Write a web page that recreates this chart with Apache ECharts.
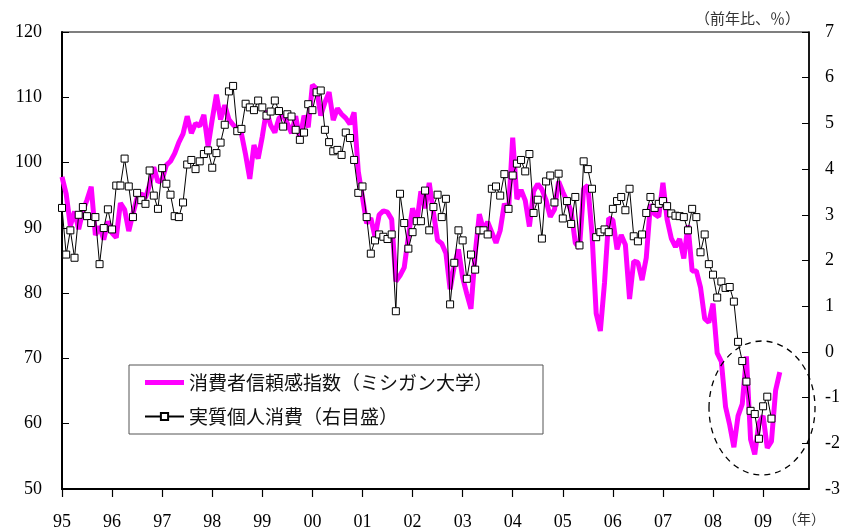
<!DOCTYPE html>
<html>
<head>
<meta charset="utf-8">
<script src="https://cdn.jsdelivr.net/npm/echarts@6/dist/echarts.min.js"></script>
<style>
  html, body { margin: 0; padding: 0; background: #fff; }
  #el { width: 843px; height: 531px; }
</style>
</head>
<body>
<div id="el"></div>
<script>
// months 1995-01 .. 2009-12
const months = [];
for (let y = 1995; y <= 2009; y++) {
  for (let m = 1; m <= 12; m++) {
    months.push(y + "-" + (m < 10 ? "0" + m : m));
  }
}

// 消費者信頼感指数（ミシガン大学） left axis
const sentiment = [
  97.8, 95.2, 90.3, 92.5, 89.8, 92.6, 94.3, 96.3, 88.9, 90.2, 88.2, 91.0,
  89.2, 88.5, 93.8, 92.8, 89.5, 92.2, 94.6, 95.2, 94.6, 96.6, 99.3, 97.0,
  97.4, 99.6, 100.2, 101.4, 103.1, 104.4, 107.1, 104.5, 106.0, 105.6, 107.3, 102.5,
  106.6, 110.4, 106.6, 108.8, 106.6, 105.8, 105.2, 104.4, 101.2, 97.5, 102.7, 100.6,
  104.0, 108.0, 105.7, 104.6, 106.8, 107.2, 106.0, 104.5, 107.1, 103.5, 107.2, 105.4,
  111.9, 111.3, 107.2, 109.2, 110.8, 106.5, 108.3, 107.4, 106.8, 105.9, 107.7, 98.6,
  94.7, 90.7, 91.5, 88.6, 92.0, 92.6, 92.4, 91.3, 81.8, 82.7, 83.9, 88.7,
  93.0, 90.7, 95.6, 93.0, 96.9, 92.4, 88.1, 87.6, 86.1, 80.6, 84.2, 86.7,
  82.4, 79.9, 77.6, 86.0, 92.1, 89.7, 90.9, 89.3, 87.7, 89.6, 93.7, 92.6,
  103.8, 94.4, 95.8, 94.2, 90.2, 95.6, 96.7, 95.9, 94.2, 91.7, 92.8, 97.1,
  95.5, 94.1, 92.6, 87.7, 86.9, 96.0, 96.5, 89.1, 76.9, 74.2, 81.6, 91.5,
  91.2, 86.7, 88.9, 87.4, 79.1, 84.9, 84.7, 82.0, 85.4, 93.6, 92.1, 91.7,
  96.9, 91.3, 88.4, 87.1, 88.3, 85.3, 90.4, 83.4, 83.4, 80.9, 76.1, 75.5,
  78.4, 70.8, 69.5, 62.6, 59.8, 56.4, 61.2, 63.0, 70.3, 57.6, 55.3, 60.1,
  61.2, 56.3, 57.3, 65.1, 67.9
];

// 実質個人消費（前年比、%） right axis
const consumption = [
  3.15, 2.13, 2.66, 2.06, 3.0, 3.17, 2.97, 2.82, 2.95, 1.92, 2.71, 3.12,
  2.68, 3.64, 3.64, 4.23, 3.62, 2.95, 3.48, 3.32, 3.24, 3.97, 3.42, 3.13,
  4.02, 3.68, 3.44, 2.97, 2.95, 3.27, 4.10, 4.2, 4.0, 4.17, 4.33, 4.41,
  4.03, 4.35, 4.58, 4.97, 5.70, 5.82, 4.83, 4.88, 5.43, 5.35, 5.29, 5.50,
  5.35, 5.17, 5.26, 5.50, 5.27, 4.93, 5.20, 5.15, 4.86, 4.64, 4.80, 5.42,
  5.29, 5.68, 5.72, 4.86, 4.59, 4.39, 4.42, 4.31, 4.80, 4.68, 4.20, 3.48,
  3.62, 2.95, 2.15, 2.44, 2.57, 2.52, 2.47, 2.57, 0.89, 3.46, 2.82, 2.26,
  2.62, 2.86, 2.86, 3.53, 2.66, 3.17, 3.44, 2.95, 3.35, 1.04, 1.95, 2.66,
  2.44, 1.60, 2.13, 1.80, 2.66, 2.66, 2.57, 3.57, 3.62, 3.42, 3.89, 3.13,
  3.86, 4.12, 4.20, 3.95, 4.33, 3.04, 3.33, 2.48, 3.73, 3.86, 3.27, 3.90,
  2.92, 3.30, 2.80, 3.39, 2.33, 4.17, 4.0, 3.57, 2.51, 2.62, 2.68, 2.62,
  3.13, 3.30, 3.39, 3.10, 3.57, 2.53, 2.42, 2.57, 3.04, 3.39, 3.15, 3.24,
  3.30, 3.19, 3.03, 2.98, 2.97, 2.95, 2.66, 3.13, 2.95, 2.18, 2.57, 1.92,
  1.69, 1.19, 1.54, 1.40, 1.42, 1.10, 0.22, -0.20, -0.65, -1.29, -1.36, -1.90,
  -1.19, -0.98, -1.46
];

const leftAxis = { min: 50, max: 120, interval: 10 };
const rightAxis = { min: -3, max: 7, interval: 1 };

const seriesNames = ["消費者信頼感指数（ミシガン大学）", "実質個人消費（右目盛）"];

const serif = "'Liberation Serif', 'Times New Roman', serif";
const jp = "'Noto Sans CJK JP', sans-serif";

const chart = echarts.init(document.getElementById("el"));

const isJan = idx => idx % 12 === 0;

let option = {
  backgroundColor: "#fff",
  animation: false,
  grid: {
    left: 62,
    right: 33,
    top: 32,
    bottom: 41,
    show: true,
    borderColor: "#000",
    borderWidth: 1.2
  },
  legend: {
    orient: "vertical",
    left: 129,
    top: 365,
    padding: [8, 50, 8, 15],
    itemWidth: 39,
    itemHeight: 9,
    itemGap: 15,
    backgroundColor: "#fff",
    borderColor: "#555",
    borderWidth: 1,
    textStyle: {
      fontFamily: jp,
      fontSize: 19,
      color: "#111"
    },
    data: [
      // 太線だけの凡例アイコン
      { name: seriesNames[0], icon: "path://M0,0M39,9M0,2L39,2L39,7L0,7Z" },
      { name: seriesNames[1] }
    ]
  },
  xAxis: {
    type: "category",
    data: months,
    boundaryGap: false,
    axisLine: { onZero: false, lineStyle: { color: "#000", width: 2 } },
    axisTick: {
      inside: false,
      length: 8,
      interval: isJan,
      lineStyle: { color: "#000", width: 1.2 }
    },
    axisLabel: {
      interval: isJan,
      margin: 24,
      fontFamily: serif,
      fontSize: 18,
      color: "#000",
      formatter: v => v.slice(2, 4)
    },
    splitLine: { show: false }
  },
  yAxis: [
    {
      type: "value",
      min: leftAxis.min,
      max: leftAxis.max,
      interval: leftAxis.interval,
      axisLine: { show: true, lineStyle: { color: "#000", width: 2 } },
      axisTick: { show: true, inside: true, length: 7, lineStyle: { color: "#000" } },
      axisLabel: { margin: 20, fontFamily: serif, fontSize: 18, color: "#000" },
      splitLine: { show: false }
    },
    {
      type: "value",
      min: rightAxis.min,
      max: rightAxis.max,
      interval: rightAxis.interval,
      position: "right",
      axisLine: { show: true, onZero: false, lineStyle: { color: "#000", width: 1.5 } },
      axisTick: { show: true, inside: true, length: 7, lineStyle: { color: "#000" } },
      axisLabel: {
        margin: 16,
        fontFamily: serif,
        fontSize: 18,
        color: "#000",
        formatter: v => String(v)
      },
      splitLine: { show: false }
    }
  ],
  series: [
    {
      name: seriesNames[0],
      type: "line",
      yAxisIndex: 0,
      data: sentiment,
      symbol: "none",
      showSymbol: false,
      itemStyle: { color: "#ff00ff" },
      lineStyle: { color: "#ff00ff", width: 5 },
      z: 2
    },
    {
      name: seriesNames[1],
      type: "line",
      yAxisIndex: 1,
      data: consumption,
      symbol: "rect",
      symbolSize: 7,
      showAllSymbol: true,
      itemStyle: { color: "#fff", borderColor: "#000", borderWidth: 1 },
      lineStyle: { color: "#000", width: 1 },
      z: 3
    }
  ],
  graphic: [
    {
      type: "text",
      right: 43,
      top: 11,
      style: { text: "（前年比、％）", fontFamily: jp, fontSize: 15, fill: "#333" }
    },
    {
      type: "text",
      left: 783,
      top: 512,
      style: { text: "（年）", fontFamily: jp, fontSize: 14, fill: "#333" }
    },
    {
      // 点線の楕円
      type: "ellipse",
      shape: { cx: 762, cy: 408, rx: 53, ry: 67 },
      style: { fill: null, stroke: "#000", lineWidth: 1.3, lineDash: [6, 5] },
      z: 10
    }
  ]
};

chart.setOption(option);
</script>
</body>
</html>
